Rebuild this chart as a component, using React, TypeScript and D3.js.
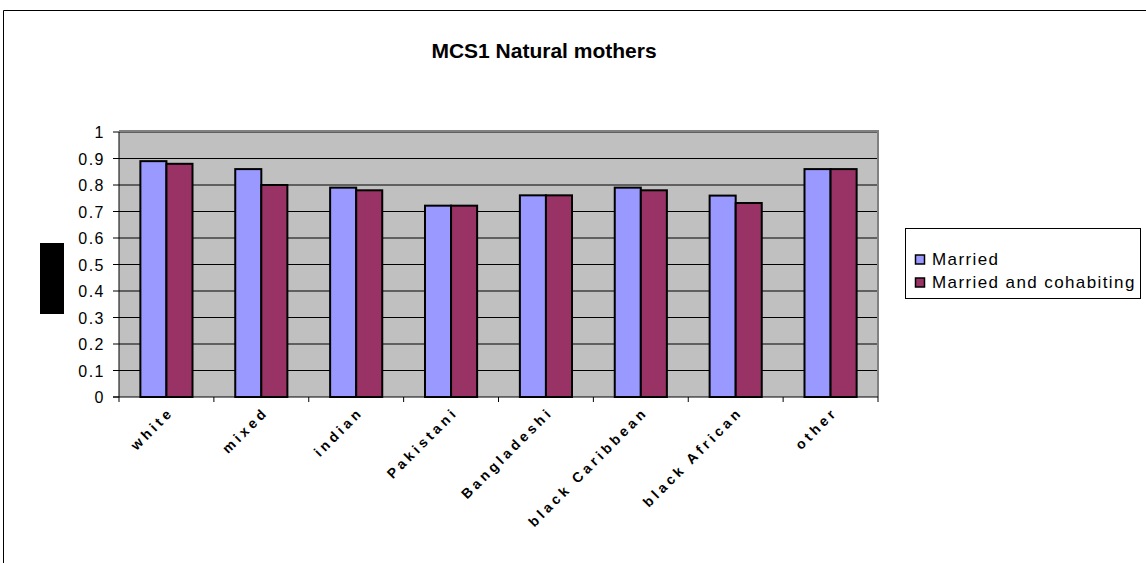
import React from "react";
import * as d3 from "d3";

const categories = ["white", "mixed", "indian", "Pakistani", "Bangladeshi", "black Caribbean", "black African", "other"];
const married = [0.89, 0.86, 0.79, 0.722, 0.761, 0.79, 0.76, 0.86];
const cohabiting = [0.88, 0.80, 0.78, 0.722, 0.761, 0.78, 0.732, 0.86];
const seriesNames = ["Married", "Married and cohabiting"];
const seriesColors = ["#9999FF", "#993366"];
const yTicks = [0, 0.1, 0.2, 0.3, 0.4, 0.5, 0.6, 0.7, 0.8, 0.9, 1];

export default function App() {
  const W = 1146, H = 563;
  const left = 119, right = 878, top = 132, bottom = 397;
  const x = d3.scaleBand<string>().domain(categories).range([left, right]).paddingInner(0).paddingOuter(0);
  const y = d3.scaleLinear().domain([0, 1]).range([bottom, top]);
  const inner = d3.scaleBand<number>().domain([0, 1]).range([0, x.bandwidth()]).paddingInner(0).paddingOuter(0.82);
  const series = [married, cohabiting];
  const font = "Arial, 'Liberation Sans', sans-serif";

  return (
    <svg width={W} height={H} style={{ position: "absolute", left: 0, top: 0 }} fontFamily={font}>
      <rect x={0} y={0} width={W} height={H} fill="#fff" />
      <path d={`M3.5,${H} V10.5 H${W}`} fill="none" stroke="#000" strokeWidth={1} />
      <text x={544} y={58} textAnchor="middle" fontSize={21} fontWeight="bold">MCS1 Natural mothers</text>
      <rect x={40} y={243} width={24} height={71} fill="#000" />
      {/* plot area */}
      <rect x={left} y={top} width={right - left} height={bottom - top} fill="#C0C0C0" />
      {yTicks.slice(1).map((t) => (
        <line key={t} x1={left} x2={right} y1={y(t)} y2={y(t)} stroke="#000" strokeWidth={1} />
      ))}
      <path d={`M${left},${top - 1} H${right} V${bottom}`} fill="none" stroke="#808080" strokeWidth={2} />
      {categories.map((c, i) =>
        series.map((s, j) => (
          <rect
            key={c + j}
            x={(x(c) as number) + (inner(j) as number)}
            y={y(s[i])}
            width={inner.bandwidth()}
            height={bottom - y(s[i])}
            fill={seriesColors[j]}
            stroke="#000"
            strokeWidth={2}
          />
        ))
      )}
      {/* axes */}
      <line x1={left} x2={left} y1={top} y2={bottom + 5} stroke="#000" strokeWidth={1} />
      <line x1={left - 6} x2={right} y1={bottom} y2={bottom} stroke="#000" strokeWidth={1} />
      {yTicks.map((t) => (
        <g key={t}>
          <line x1={left - 6} x2={left} y1={y(t)} y2={y(t)} stroke="#000" />
          <text x={105} y={y(t) + 6} textAnchor="end" fontSize={16} letterSpacing={1.5}>{d3.format("")(t)}</text>
        </g>
      ))}
      {categories.map((c) => (
        <line key={"xt" + c} x1={(x(c) as number) + x.bandwidth()} x2={(x(c) as number) + x.bandwidth()} y1={bottom} y2={bottom + 5} stroke="#000" />
      ))}
      {categories.map((c) => {
        const cx = (x(c) as number) + x.bandwidth() / 2 + 8;
        const cy = bottom + 16;
        return (
          <text key={"xl" + c} x={cx} y={cy} textAnchor="end" fontSize={14} fontWeight="bold" letterSpacing={3.6} transform={`rotate(-45 ${cx} ${cy})`}>{c}</text>
        );
      })}
      {/* legend */}
      <rect x={905.5} y={228.5} width={235} height={70} fill="#fff" stroke="#000" />
      {seriesNames.map((n, j) => (
        <g key={n}>
          <rect x={915.5} y={259 + j * 23 - 4} width={9} height={9} fill={seriesColors[j]} stroke="#000" strokeWidth={1.5} />
          <text x={932} y={259 + j * 23 + 6} fontSize={17} letterSpacing={1.4}>{n}</text>
        </g>
      ))}
    </svg>
  );
}
